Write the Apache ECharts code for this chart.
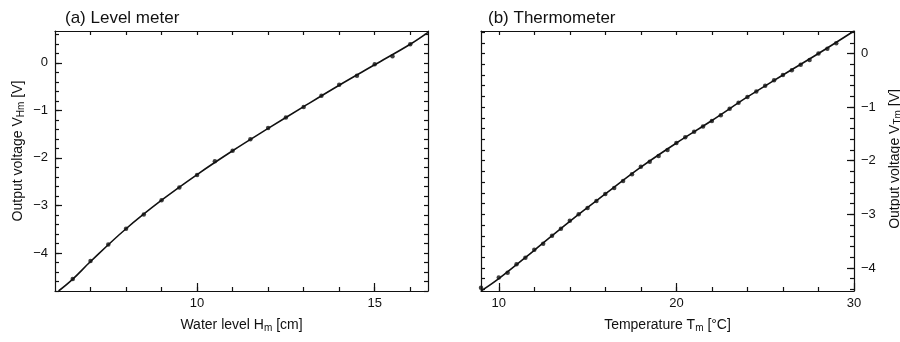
<!DOCTYPE html>
<html>
<head>
<meta charset="utf-8">
<script src="https://cdn.jsdelivr.net/npm/echarts@6/dist/echarts.min.js"></script>
<style>
  html, body { margin: 0; padding: 0; background: #fff; }
  #chart { width: 900px; height: 342px; }
</style>
</head>
<body>
<div id="chart"></div>
<script>
// (a) level meter: measured points and fitted curve
const levelH = [6.5, 7, 7.5, 8, 8.5, 9, 9.5, 10, 10.5, 11, 11.5, 12, 12.5, 13, 13.5, 14, 14.5, 15, 15.5, 16];
const levelV = [-4.55, -4.17, -3.82, -3.49, -3.19, -2.89, -2.62, -2.36, -2.07, -1.85, -1.61, -1.37, -1.15, -0.93, -0.69, -0.46, -0.27, -0.03, 0.14, 0.39];
const levelFitH = [6.1, 6.5, 7, 8, 9, 10, 11, 12, 13, 14, 15, 16, 16.5];
const levelFitV = [-4.8, -4.55, -4.18, -3.49, -2.89, -2.35, -1.85, -1.38, -0.92, -0.47, -0.04, 0.39, 0.64];

// (b) thermometer: measured points and fitted curve
const tempT = [9, 10, 10.5, 11, 11.5, 12, 12.5, 13, 13.5, 14, 14.5, 15, 15.5, 16, 16.5, 17, 17.5, 18, 18.5, 19, 19.5,
  20, 20.5, 21, 21.5, 22, 22.5, 23, 23.5, 24, 24.5, 25, 25.5, 26, 26.5, 27, 27.5, 28, 28.5, 29];
const tempV = [-4.37, -4.18, -4.09, -3.93, -3.81, -3.66, -3.55, -3.40, -3.27, -3.12, -3.00, -2.88, -2.75, -2.62, -2.51, -2.38, -2.25, -2.11, -2.02, -1.91, -1.80,
  -1.67, -1.56, -1.46, -1.36, -1.26, -1.15, -1.03, -0.92, -0.81, -0.71, -0.60, -0.50, -0.40, -0.31, -0.21, -0.12, 0.00, 0.09, 0.19];
const tempFitT = [9, 10, 12, 14, 16, 18, 20, 22, 24, 26, 28, 30];
const tempFitV = [-4.43, -4.2, -3.67, -3.13, -2.62, -2.12, -1.67, -1.25, -0.81, -0.40, 0.0, 0.42];

// tick positions
const levelXLabels = [10, 15];
const levelXMinor = [7, 8, 9, 10, 11, 12, 13, 14, 15, 16];
const levelYLabels = [0, -1, -2, -3, -4];
const tempXLabels = [10, 20, 30];
const tempXMinor = [10, 12, 14, 16, 18, 20, 22, 24, 26, 28];
const tempYLabels = [0, -1, -2, -3, -4];

function steps(a, b, d) {
  const out = [];
  for (let v = a; v <= b + 1e-9; v += d) out.push(Math.round(v * 100) / 100);
  return out;
}
const levelYMinor = steps(-4.8, 0.6, 0.2);
const tempYMinor = steps(-4.4, 0.4, 0.2);

const FONT = '"Liberation Sans", Arial, sans-serif';
const zip = (xs, ys) => xs.map((x, i) => [x, ys[i]]);
const fmt = v => String(v).replace('-', '\u2212');
const nameRich = {
  n: { fontSize: 14, fontFamily: FONT, color: '#111' },
  s: { fontSize: 10, fontFamily: FONT, color: '#111', verticalAlign: 'bottom', padding: [6, 0, 0, 0] }
};
const lineStyle = { color: '#111', width: 1.2 };

// builds the axes of one framed panel (ticks on all four sides, pointing in)
function frameAxes(gi, o) {
  const xs = [], ys = [];
  const baseX = { type: 'value', gridIndex: gi, min: o.xMin, max: o.xMax, splitLine: { show: false } };
  const baseY = { type: 'value', gridIndex: gi, min: o.yMin, max: o.yMax, splitLine: { show: false } };
  xs.push(Object.assign({}, baseX, {
    position: 'bottom',
    name: o.xName, nameLocation: 'middle', nameGap: 26,
    nameTextStyle: { rich: nameRich },
    axisLine: { show: true, onZero: false, lineStyle },
    axisTick: { show: true, inside: true, length: 4, customValues: o.xMinor, lineStyle },
    axisLabel: { show: true, customValues: o.xLabels, formatter: fmt, color: '#111', fontSize: 13, fontFamily: FONT, margin: 6 }
  }));
  xs.push(Object.assign({}, baseX, {
    position: 'bottom',
    axisLine: { show: false, onZero: false },
    axisTick: { show: true, inside: true, length: 8, customValues: o.xLabels, lineStyle },
    axisLabel: { show: false }
  }));
  xs.push(Object.assign({}, baseX, {
    position: 'top',
    axisLine: { show: true, onZero: false, lineStyle },
    axisTick: { show: true, inside: true, length: 4, customValues: o.xMinor, lineStyle },
    axisLabel: { show: false }
  }));
  ys.push(Object.assign({}, baseY, {
    position: o.labelSide,
    name: o.yName, nameLocation: 'middle', nameGap: o.yNameGap, nameRotate: 90,
    nameTextStyle: { rich: nameRich, padding: o.yNamePad },
    axisLine: { show: true, onZero: false, lineStyle },
    axisTick: { show: true, inside: true, length: 4, customValues: o.yMinor, lineStyle },
    axisLabel: { show: true, customValues: o.yLabels, formatter: fmt, color: '#111', fontSize: 13, fontFamily: FONT, margin: 7 }
  }));
  ys.push(Object.assign({}, baseY, {
    position: o.labelSide,
    axisLine: { show: false, onZero: false },
    axisTick: { show: true, inside: true, length: 7, customValues: o.yLabels, lineStyle },
    axisLabel: { show: false }
  }));
  ys.push(Object.assign({}, baseY, {
    position: o.labelSide === 'left' ? 'right' : 'left',
    axisLine: { show: true, onZero: false, lineStyle },
    axisTick: { show: true, inside: true, length: 4, customValues: o.yMinor, lineStyle },
    axisLabel: { show: false }
  }));
  return { xs, ys };
}

const a = frameAxes(0, {
  xMin: 6, xMax: 16.5, yMin: -4.8, yMax: 0.67,
  xMinor: levelXMinor, xLabels: levelXLabels, yMinor: levelYMinor, yLabels: levelYLabels,
  labelSide: 'left', yNameGap: 29, yNamePad: [0, 0, 0, 20],
  xName: '{n|Water level H}{s|m}{n| [cm]}',
  yName: '{n|Output voltage V}{s|Hm}{n| [V]}'
});
const b = frameAxes(1, {
  xMin: 9, xMax: 30, yMin: -4.43, yMax: 0.42,
  xMinor: tempXMinor, xLabels: tempXLabels, yMinor: tempYMinor, yLabels: tempYLabels,
  labelSide: 'right', yNameGap: 33, yNamePad: [0, 0, 0, 4],
  xName: '{n|Temperature T}{s|m}{n| [\u00b0C]}',
  yName: '{n|Output voltage V}{s|Tm}{n| [V]}'
});

const chart = echarts.init(document.getElementById('chart'), null, { renderer: 'canvas' });

const dots = { type: 'scatter', symbol: 'circle', symbolSize: 4.5, itemStyle: { color: '#111' }, silent: true };
const curve = { type: 'line', smooth: 0.4, showSymbol: false, clip: true, lineStyle: { color: '#111', width: 1.6 }, silent: true };

chart.setOption({
  animation: false,
  backgroundColor: '#fff',
  title: [
    { text: '(a) Level meter', left: 60, top: 5, textStyle: { fontSize: 17, fontWeight: 'normal', color: '#111', fontFamily: FONT } },
    { text: '(b) Thermometer', left: 483, top: 5, textStyle: { fontSize: 17, fontWeight: 'normal', color: '#111', fontFamily: FONT } }
  ],
  grid: [
    { left: 55, top: 31, width: 373, height: 260, outerBoundsMode: 'none' },
    { left: 481, top: 31, width: 373, height: 260, outerBoundsMode: 'none' }
  ],
  xAxis: a.xs.concat(b.xs),
  yAxis: a.ys.concat(b.ys),
  series: [
    Object.assign({}, curve, { xAxisIndex: 0, yAxisIndex: 0, data: zip(levelFitH, levelFitV) }),
    Object.assign({}, dots, { xAxisIndex: 0, yAxisIndex: 0, data: zip(levelH, levelV) }),
    Object.assign({}, curve, { xAxisIndex: 3, yAxisIndex: 3, data: zip(tempFitT, tempFitV) }),
    Object.assign({}, dots, { xAxisIndex: 3, yAxisIndex: 3, data: zip(tempT, tempV) })
  ]
});
</script>
</body>
</html>
